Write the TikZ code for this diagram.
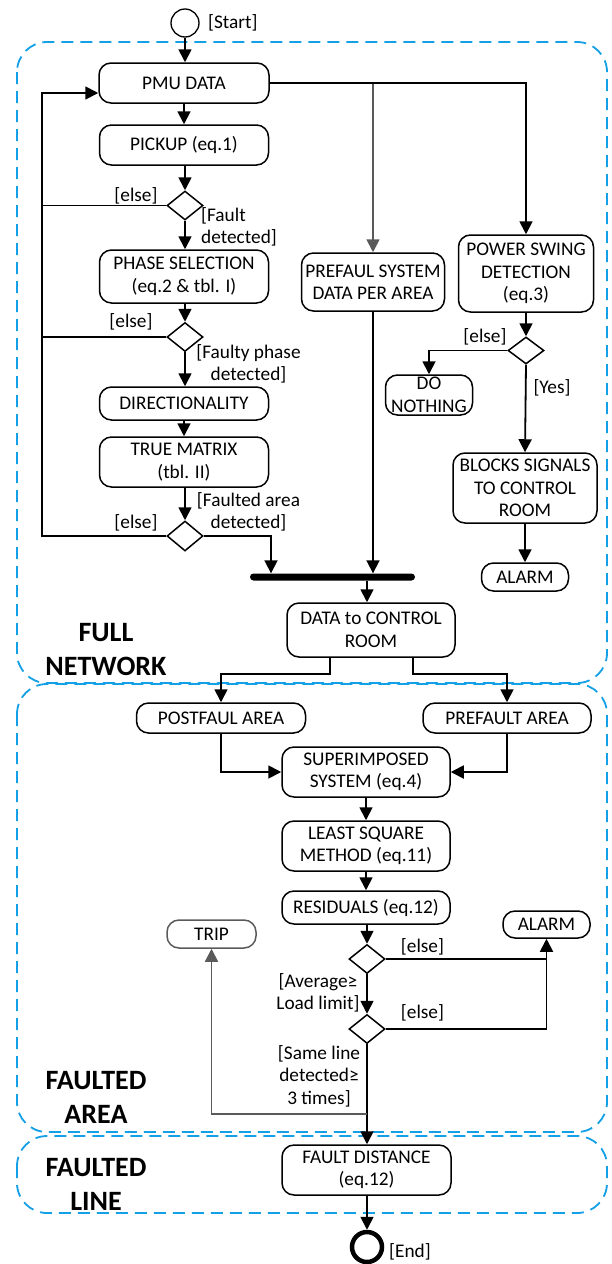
\documentclass[tikz,border=0pt]{standalone}
\usepackage{fontspec}
\setmainfont{Carlito}
\usetikzlibrary{shapes.geometric,arrows.meta}
\definecolor{bluedash}{RGB}{20,160,230}
\definecolor{grayline}{RGB}{90,90,90}
\begin{document}
\begin{tikzpicture}[x=1pt,y=-1pt,
  font=\fontsize{19.3}{22.5}\selectfont,
  box/.style={draw, line width=1.5pt, rounded corners=12pt, inner sep=0pt, align=center},
  dia/.style={draw, diamond, line width=1.5pt, inner sep=0pt, minimum width=36pt, minimum height=29pt},
  conn/.style={line width=1.8pt},
  arr/.style={conn, -{Triangle[length=13pt,width=13pt]}},
  garr/.style={arr, color=grayline},
  lbl/.style={inner sep=0pt, align=center},
  zone/.style={draw=bluedash, line width=1.8pt, dash pattern=on 12pt off 7pt, rounded corners=30pt},
  zonelbl/.style={font=\fontsize{28}{34}\selectfont\bfseries, align=center, inner sep=0pt}
]
\useasboundingbox (0,0) rectangle (611,1264);

% zones
\draw[zone] (17,42) rectangle (607,683);
\draw[zone] (17,684) rectangle (607,1132);
\draw[zone] (17,1136) rectangle (607,1213);
\node[zonelbl] (zfull) at (106,650) {FULL\\NETWORK};
\node[zonelbl] (zarea) at (96,1097.5) {FAULTED\\AREA};
\node[zonelbl] (zline) at (96,1184) {FAULTED\\LINE};

% nodes
\node[circle, draw, line width=1.3pt, minimum size=28pt, inner sep=0pt] (start) at (185,23) {};
\node[lbl, anchor=west] (lstart) at (208,23) {[Start]};
\node[box, minimum width=170pt, minimum height=40pt] (pmu) at (184,83) {PMU DATA};
\node[box, minimum width=169pt, minimum height=40pt] (pickup) at (184,145) {PICKUP (eq.1)};
\node[dia] (d1) at (185,205.5) {};
\node[box, minimum width=169pt, minimum height=53pt] (phase) at (184,276.5) {PHASE SELECTION\\(eq.2 \& tbl. I)};
\node[dia] (d2) at (185,337) {};
\node[box, minimum width=169pt, minimum height=33pt] (dir) at (184,403.5) {DIRECTIONALITY};
\node[box, minimum width=169pt, minimum height=50pt] (tm) at (184,462) {TRUE MATRIX\\(tbl. II)};
\node[dia, minimum height=30pt] (d3) at (185,536) {};

\node[box, minimum width=143pt, minimum height=58pt] (pre) at (373,282) {PREFAUL SYSTEM\\DATA PER AREA};
\node[box, minimum width=135pt, minimum height=77pt] (psw) at (526,273.5) {POWER SWING\\DETECTION\\(eq.3)};
\node[dia, minimum height=27pt] (d4) at (526,350.5) {};
\node[box, minimum width=87pt, minimum height=40pt] (don) at (429,395) {DO\\NOTHING};
\node[box, minimum width=144pt, minimum height=70pt] (blk) at (525,488) {BLOCKS SIGNALS\\TO CONTROL\\ROOM};
\node[box, minimum width=87pt, minimum height=28pt] (alarm1) at (525,577) {ALARM};

\node[box, minimum width=168pt, minimum height=54pt] (dcr) at (371,630) {DATA to CONTROL\\ROOM};
\node[box, minimum width=169pt, minimum height=30pt] (post) at (221,718) {POSTFAUL AREA};
\node[box, minimum width=168pt, minimum height=30pt] (pref) at (507,718) {PREFAULT AREA};
\node[box, minimum width=168pt, minimum height=50pt] (sup) at (366,772) {SUPERIMPOSED\\SYSTEM (eq.4)};
\node[box, minimum width=168pt, minimum height=50pt] (lsq) at (366,846) {LEAST SQUARE\\METHOD (eq.11)};
\node[box, minimum width=168pt, minimum height=33pt] (res) at (366,907.5) {RESIDUALS (eq.12)};
\node[box, minimum width=87pt, minimum height=27pt] (alarm2) at (546.5,924.5) {ALARM};
\node[box, draw=grayline, minimum width=89pt, minimum height=28pt] (trip) at (211.5,934) {TRIP};
\node[dia] (d5) at (367,959) {};
\node[dia] (d6) at (367,1029) {};
\node[box, minimum width=169pt, minimum height=50pt] (fd) at (366.5,1170) {FAULT DISTANCE\\(eq.12)};
\node[circle, draw, line width=4.5pt, minimum size=30pt, inner sep=0pt] (end) at (367,1247) {};
\node[lbl, anchor=west] (lend) at (389,1252) {[End]};

% labels
\node[lbl] (e1) at (136,196) {[else]};
\node[lbl, align=left, anchor=west] (l1) at (201,227) {[Fault\\detected]};
\node[lbl] (e2) at (131,322) {[else]};
\node[lbl] (l2) at (248.5,364) {[Faulty phase\\detected]};
\node[lbl] (e3) at (136,523) {[else]};
\node[lbl] (l3) at (248.5,512) {[Faulted area\\detected]};
\node[lbl] (e4) at (485,337) {[else]};
\node[lbl] (l4) at (552,388) {[Yes]};
\node[lbl] (e5) at (422.5,947) {[else]};
\node[lbl] (l5) at (318,993) {[Average≥\\Load limit]};
\node[lbl] (e6) at (422.5,1013) {[else]};
\node[lbl] (l6) at (319,1076) {[Same line\\detected≥\\3 times]};

% coordinates
\coordinate (lt) at (42,93);
\coordinate (b1) at (271,577);
\coordinate (j1) at (330,674);
\coordinate (j2) at (413,674);
\coordinate (g1) at (367,1114);

% connectors
\draw[arr] (start.south) -- (start.south |- pmu.north);
\draw[arr] (pmu.south) -- (pickup.north);
\draw[arr] (pickup.south -| d1.north) -- (d1.north);
\draw[arr] (d1.south) -- (d1.south |- phase.north);
\draw[arr] (phase.south -| d2.north) -- (d2.north);
\draw[arr] (d2.south) -- (d2.south |- dir.north);
\draw[arr] (dir.south) -- (tm.north);
\draw[arr] (tm.south -| d3.north) -- (d3.north);
\draw[arr] (d3.west) -| (lt) -- (lt -| pmu.west);
\draw[conn] (d1.west) -- (d1.west -| lt);
\draw[conn] (d2.west) -- (d2.west -| lt);

\draw[garr] (pre.north |- pmu.east) -- (pre.north);
\draw[arr] (pmu.east) -| (psw.north);
\draw[arr] (psw.south) -- (d4.north);
\draw[arr] (d4.west) -| (don.north);
\draw[arr] (d4.south) -- (blk.north);
\draw[arr] (blk.south) -- (alarm1.north);

\node[fill, rounded corners=3.5pt, minimum width=165pt, minimum height=7pt, inner sep=0pt] (bar) at (332.5,577) {};
\draw[arr] (d3.east) -| (b1 |- bar.north);
\draw[arr] (pre.south) -- (pre.south |- bar.north);
\draw[arr] (bar.south -| 367,0) -- (367,0 |- dcr.north);

\draw[arr] (j1 |- dcr.south) -- (j1) -| (post.north);
\draw[arr] (j2 |- dcr.south) -- (j2) -| (pref.north);
\draw[arr] (post.south) |- (sup.west);
\draw[arr] (pref.south) |- (sup.east);
\draw[arr] (sup.south) -- (lsq.north);
\draw[arr] (lsq.south) -- (res.north);
\draw[arr] (res.south -| d5.north) -- (d5.north);
\draw[arr] (d5.east) -| (alarm2.south);
\draw[conn] (d6.east) -| (alarm2.south |- d5.east);
\draw[arr] (d5.south) -- (d6.north);
\draw[arr] (d6.south) -- (d6.south |- fd.north);
\draw[garr] (g1) -| (trip.south);
\draw[arr] (fd.south -| end.north) -- (end.north);
\end{tikzpicture}
\end{document}
